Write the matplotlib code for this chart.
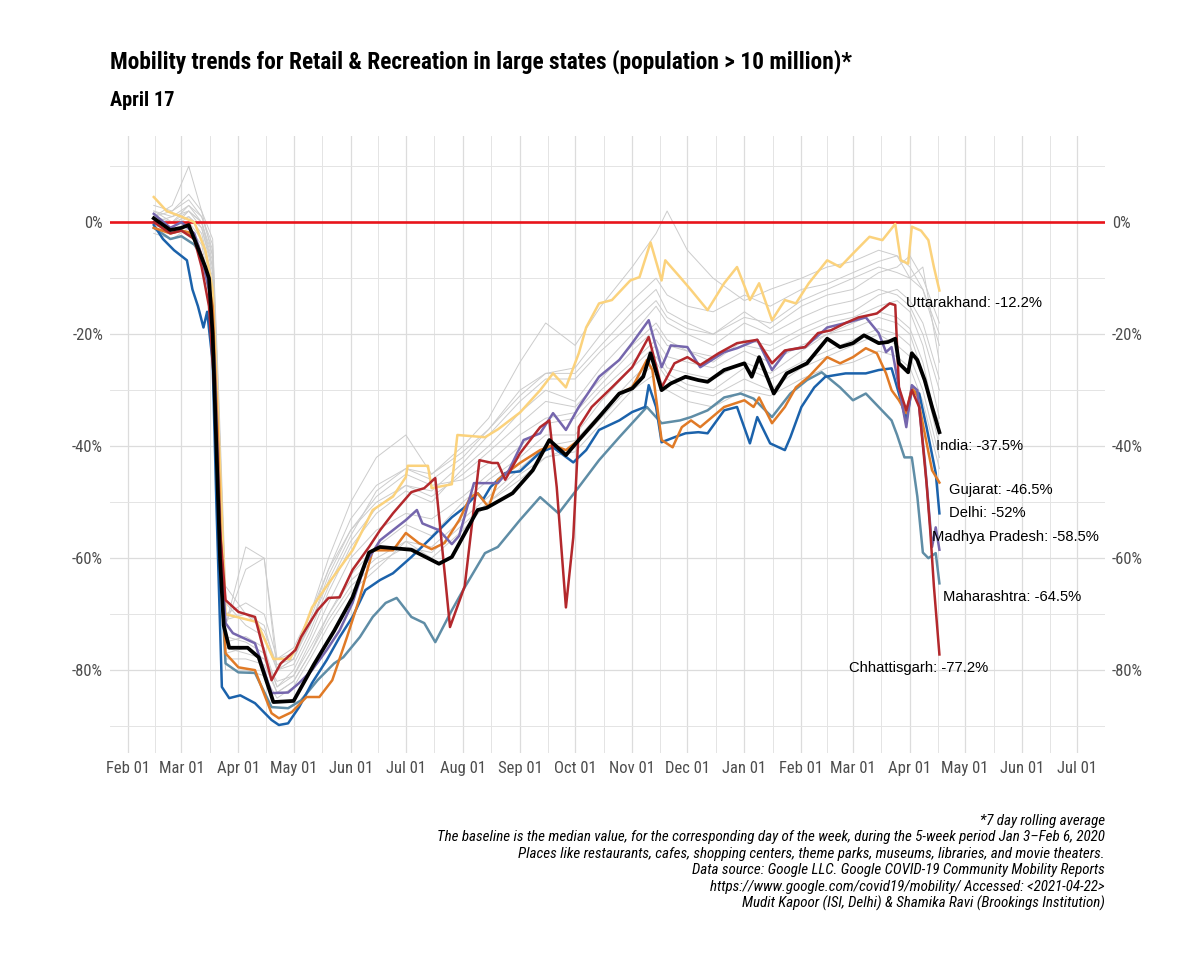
import matplotlib
matplotlib.use("Agg")
import matplotlib.pyplot as plt
import matplotlib.dates as mdates
import matplotlib.font_manager as fm
import pandas as pd
import numpy as np

# ---------------- data ----------------
INDIA_DATES = ["2020-02-15","2020-02-24","2020-03-01","2020-03-05","2020-03-09","2020-03-14","2020-03-16","2020-03-18","2020-03-20","2020-03-22","2020-03-24","2020-03-27","2020-04-06","2020-04-12","2020-04-20","2020-05-01","2020-05-12","2020-05-23","2020-06-02","2020-06-11","2020-06-17","2020-07-04","2020-07-19","2020-07-26","2020-08-09","2020-08-14","2020-08-28","2020-09-08","2020-09-17","2020-09-26","2020-10-03","2020-10-14","2020-10-25","2020-11-01","2020-11-07","2020-11-11","2020-11-17","2020-11-22","2020-11-30","2020-12-07","2020-12-12","2020-12-21","2021-01-01","2021-01-05","2021-01-09","2021-01-17","2021-01-24","2021-02-04","2021-02-15","2021-02-22","2021-03-01","2021-03-07","2021-03-15","2021-03-20","2021-03-24","2021-03-26","2021-03-31","2021-04-02","2021-04-05","2021-04-09","2021-04-13","2021-04-17"]
INDIA_VALUES = [0.7,-1.4,-1.0,-0.5,-3.8,-8.0,-10.0,-20.0,-40.0,-60.0,-72.0,-76.0,-76.0,-77.7,-85.7,-85.5,-79.0,-73.0,-67.0,-59.0,-58.0,-58.5,-61.0,-59.8,-51.4,-51.0,-48.4,-44.3,-38.9,-41.6,-38.9,-34.8,-30.6,-29.7,-27.6,-23.4,-30.0,-28.8,-27.6,-28.2,-28.5,-26.4,-25.2,-27.6,-24.1,-30.6,-27.0,-25.2,-20.8,-22.3,-21.6,-20.2,-21.6,-21.4,-20.8,-25.2,-26.8,-23.4,-24.6,-28.2,-33.0,-37.5]

UTTARAKHAND_DATES = ["2020-02-15","2020-02-22","2020-03-01","2020-03-08","2020-03-14","2020-03-18","2020-03-21","2020-03-25","2020-04-11","2020-04-20","2020-04-29","2020-05-04","2020-05-11","2020-05-20","2020-06-02","2020-06-13","2020-06-24","2020-07-01","2020-07-02","2020-07-13","2020-07-15","2020-07-26","2020-07-29","2020-08-13","2020-08-20","2020-09-01","2020-09-12","2020-09-19","2020-09-26","2020-10-03","2020-10-07","2020-10-14","2020-10-21","2020-10-31","2020-11-05","2020-11-11","2020-11-17","2020-11-19","2020-11-27","2020-12-03","2020-12-12","2020-12-21","2020-12-28","2021-01-04","2021-01-09","2021-01-16","2021-01-23","2021-01-29","2021-02-05","2021-02-15","2021-02-22","2021-03-01","2021-03-10","2021-03-17","2021-03-24","2021-03-27","2021-03-31","2021-04-02","2021-04-07","2021-04-11","2021-04-14","2021-04-17"]
UTTARAKHAND_VALUES = [4.5,2.0,1.0,0.0,-5.0,-12.0,-35.0,-70.0,-71.4,-78.0,-78.0,-75.0,-68.8,-64.5,-58.6,-51.4,-49.0,-45.5,-43.5,-43.5,-47.5,-46.8,-38.0,-38.4,-37.0,-34.0,-30.0,-27.0,-29.5,-23.4,-18.8,-14.5,-13.9,-10.4,-9.8,-3.6,-10.4,-6.8,-9.8,-12.1,-15.7,-10.9,-8.0,-13.9,-10.9,-17.5,-13.9,-14.5,-10.9,-6.8,-8.0,-5.6,-2.6,-3.2,-0.3,-6.8,-7.4,-0.8,-1.5,-3.2,-8.0,-12.2]

CHHATTISGARH_DATES = ["2020-02-15","2020-02-24","2020-03-01","2020-03-08","2020-03-12","2020-03-16","2020-03-19","2020-03-22","2020-03-25","2020-04-01","2020-04-10","2020-04-19","2020-04-24","2020-05-02","2020-05-05","2020-05-14","2020-05-20","2020-05-26","2020-06-02","2020-06-11","2020-06-17","2020-06-24","2020-07-04","2020-07-11","2020-07-14","2020-07-17","2020-07-25","2020-08-02","2020-08-10","2020-08-17","2020-08-20","2020-08-24","2020-09-01","2020-09-12","2020-09-17","2020-09-21","2020-09-26","2020-09-30","2020-10-03","2020-10-10","2020-10-21","2020-11-01","2020-11-10","2020-11-17","2020-11-24","2020-12-01","2020-12-08","2020-12-18","2020-12-28","2021-01-08","2021-01-16","2021-01-23","2021-02-03","2021-02-10","2021-02-17","2021-02-25","2021-03-04","2021-03-14","2021-03-21","2021-03-24","2021-03-26","2021-03-30","2021-04-02","2021-04-06","2021-04-10","2021-04-12","2021-04-14","2021-04-17"]
CHHATTISGARH_VALUES = [0.0,-2.0,-1.5,-3.0,-8.0,-15.0,-30.0,-55.0,-67.5,-69.6,-70.5,-81.8,-78.8,-76.4,-74.1,-69.3,-67.1,-67.0,-62.1,-58.0,-55.0,-52.0,-48.2,-47.5,-46.6,-45.7,-72.3,-65.0,-42.5,-43.0,-43.0,-46.0,-41.3,-36.6,-35.4,-47.3,-68.8,-56.3,-36.6,-33.0,-29.5,-25.9,-20.5,-29.5,-25.2,-24.1,-25.5,-23.4,-21.6,-21.0,-25.2,-22.9,-22.3,-19.8,-19.3,-18.0,-17.0,-16.3,-14.5,-14.8,-29.5,-33.6,-30.0,-33.0,-46.6,-55.0,-65.0,-77.2]

MP_DATES = ["2020-02-15","2020-02-24","2020-03-01","2020-03-08","2020-03-12","2020-03-16","2020-03-19","2020-03-22","2020-03-25","2020-03-29","2020-04-10","2020-04-19","2020-04-28","2020-05-04","2020-05-11","2020-05-19","2020-05-26","2020-06-02","2020-06-09","2020-06-17","2020-06-24","2020-07-01","2020-07-07","2020-07-10","2020-07-19","2020-07-26","2020-07-30","2020-08-07","2020-08-20","2020-08-26","2020-09-03","2020-09-12","2020-09-19","2020-09-26","2020-10-03","2020-10-14","2020-10-25","2020-11-01","2020-11-10","2020-11-17","2020-11-22","2020-12-01","2020-12-08","2020-12-21","2020-12-28","2021-01-08","2021-01-16","2021-01-24","2021-02-03","2021-02-15","2021-02-25","2021-03-08","2021-03-15","2021-03-19","2021-03-22","2021-03-26","2021-03-30","2021-04-02","2021-04-05","2021-04-09","2021-04-13","2021-04-15","2021-04-17"]
MP_VALUES = [1.5,-1.0,0.0,-2.0,-6.0,-12.0,-25.0,-55.0,-71.6,-73.4,-75.2,-84.1,-84.0,-82.3,-80.0,-76.4,-72.9,-68.0,-61.0,-56.8,-55.0,-53.2,-51.4,-53.8,-55.0,-57.5,-56.0,-46.6,-46.6,-44.3,-38.9,-37.7,-34.1,-37.1,-33.0,-27.6,-24.6,-21.6,-17.5,-25.9,-22.0,-22.3,-25.9,-23.2,-22.5,-21.0,-26.4,-22.9,-22.3,-18.8,-18.0,-17.0,-19.8,-23.2,-22.3,-29.5,-36.6,-29.1,-30.0,-42.5,-58.0,-54.5,-58.5]

GUJARAT_DATES = ["2020-02-15","2020-02-24","2020-03-01","2020-03-05","2020-03-10","2020-03-14","2020-03-18","2020-03-21","2020-03-23","2020-03-25","2020-04-01","2020-04-10","2020-04-19","2020-04-23","2020-04-30","2020-05-08","2020-05-15","2020-05-22","2020-05-30","2020-06-06","2020-06-13","2020-06-24","2020-07-01","2020-07-08","2020-07-15","2020-07-22","2020-07-30","2020-08-05","2020-08-09","2020-08-15","2020-08-20","2020-09-01","2020-09-12","2020-09-19","2020-09-26","2020-10-03","2020-10-14","2020-10-25","2020-11-01","2020-11-09","2020-11-12","2020-11-17","2020-11-23","2020-11-28","2020-12-03","2020-12-08","2020-12-21","2021-01-01","2021-01-06","2021-01-09","2021-01-16","2021-01-23","2021-01-29","2021-02-05","2021-02-15","2021-02-22","2021-03-01","2021-03-08","2021-03-14","2021-03-19","2021-03-22","2021-03-26","2021-03-30","2021-04-02","2021-04-05","2021-04-09","2021-04-13","2021-04-17"]
GUJARAT_VALUES = [-1.0,-2.0,-1.5,-1.8,-4.0,-8.0,-15.0,-40.0,-65.0,-77.0,-79.5,-80.0,-87.7,-88.6,-87.5,-84.8,-84.8,-81.8,-74.1,-67.0,-58.6,-58.6,-55.5,-57.3,-58.4,-57.3,-53.2,-49.1,-48.4,-50.9,-46.0,-43.0,-40.7,-39.8,-40.7,-38.9,-34.8,-30.6,-29.5,-24.6,-26.4,-38.9,-40.2,-36.6,-35.4,-36.6,-33.0,-31.8,-33.0,-31.3,-35.9,-33.0,-29.5,-27.6,-24.1,-25.2,-24.1,-22.5,-23.4,-27.0,-30.0,-31.8,-34.1,-29.5,-31.0,-37.7,-44.3,-46.5]

DELHI_DATES = ["2020-02-15","2020-02-20","2020-02-26","2020-03-04","2020-03-07","2020-03-10","2020-03-13","2020-03-15","2020-03-18","2020-03-20","2020-03-23","2020-03-27","2020-04-02","2020-04-10","2020-04-19","2020-04-23","2020-04-28","2020-05-04","2020-05-11","2020-05-19","2020-05-26","2020-06-02","2020-06-09","2020-06-17","2020-06-24","2020-07-04","2020-07-15","2020-07-26","2020-08-02","2020-08-09","2020-08-12","2020-08-16","2020-08-24","2020-09-01","2020-09-12","2020-09-19","2020-09-30","2020-10-07","2020-10-14","2020-10-25","2020-11-01","2020-11-08","2020-11-10","2020-11-14","2020-11-17","2020-11-24","2020-11-30","2020-12-07","2020-12-12","2020-12-21","2020-12-28","2021-01-04","2021-01-08","2021-01-15","2021-01-23","2021-01-26","2021-02-01","2021-02-08","2021-02-14","2021-02-25","2021-03-08","2021-03-15","2021-03-22","2021-03-26","2021-03-30","2021-04-02","2021-04-06","2021-04-10","2021-04-15","2021-04-17"]
DELHI_VALUES = [-0.5,-3.0,-5.0,-6.8,-12.0,-15.0,-18.8,-16.0,-25.0,-50.0,-83.0,-85.0,-84.5,-85.9,-88.9,-89.8,-89.5,-86.6,-82.3,-78.2,-74.1,-70.5,-65.7,-63.9,-62.7,-59.8,-56.3,-52.7,-50.9,-48.4,-49.5,-47.3,-44.8,-44.5,-41.1,-40.2,-42.9,-40.7,-37.1,-35.4,-33.9,-33.0,-29.1,-33.0,-39.3,-38.4,-37.7,-37.5,-37.7,-33.6,-33.0,-39.5,-34.8,-39.5,-40.7,-38.4,-33.0,-29.5,-27.6,-27.0,-27.0,-26.4,-26.1,-30.6,-35.4,-30.0,-30.6,-36.6,-44.8,-52.0]

MAHARASHTRA_DATES = ["2020-02-15","2020-02-24","2020-03-01","2020-03-08","2020-03-12","2020-03-16","2020-03-19","2020-03-22","2020-03-25","2020-04-01","2020-04-10","2020-04-19","2020-04-28","2020-05-05","2020-05-14","2020-05-23","2020-05-28","2020-06-06","2020-06-13","2020-06-20","2020-06-26","2020-07-04","2020-07-11","2020-07-17","2020-07-26","2020-08-02","2020-08-13","2020-08-20","2020-09-01","2020-09-12","2020-09-22","2020-10-03","2020-10-14","2020-10-25","2020-11-09","2020-11-17","2020-11-27","2020-12-03","2020-12-12","2020-12-21","2020-12-30","2021-01-06","2021-01-16","2021-01-26","2021-02-04","2021-02-12","2021-02-22","2021-03-01","2021-03-08","2021-03-15","2021-03-22","2021-03-25","2021-03-29","2021-04-02","2021-04-05","2021-04-08","2021-04-11","2021-04-15","2021-04-17"]
MAHARASHTRA_VALUES = [-1.0,-3.0,-2.5,-4.0,-6.0,-12.0,-28.0,-60.0,-78.8,-80.4,-80.5,-86.6,-86.8,-85.4,-81.8,-78.8,-77.7,-74.1,-70.5,-68.0,-67.1,-70.5,-71.6,-75.0,-69.3,-65.2,-59.1,-58.0,-53.2,-49.1,-52.0,-47.3,-42.5,-38.4,-33.0,-35.9,-35.4,-34.8,-33.6,-31.3,-30.6,-31.5,-34.8,-30.6,-28.2,-26.8,-29.5,-31.8,-30.6,-33.0,-35.4,-38.0,-42.0,-42.0,-49.0,-59.0,-60.0,-59.1,-64.5]

# the other large states, drawn in light grey
GREY_DATES = ["2020-02-15","2020-02-25","2020-03-05","2020-03-12","2020-03-18","2020-03-21","2020-03-25","2020-04-05","2020-04-15","2020-04-22","2020-05-01","2020-05-10","2020-05-20","2020-06-01","2020-06-15","2020-07-01","2020-07-15","2020-08-01","2020-08-15","2020-09-01","2020-09-15","2020-10-01","2020-10-15","2020-11-01","2020-11-14","2020-11-20","2020-12-01","2020-12-15","2021-01-01","2021-01-15","2021-02-01","2021-02-15","2021-03-01","2021-03-15","2021-03-25","2021-04-01","2021-04-08","2021-04-17"]
GREY_01 = [1,3,10,2,-6,-30,-72,-62,-60,-80,-78,-70,-60,-50,-42,-38,-45,-40,-35,-25,-18,-22,-15,-8,-2,2,-5,-10,-14,-12,-10,-8,-7,-5,-6,-10,-8,-25]
GREY_02 = [2,0,3,0,-8,-40,-75,-74,-76,-83,-80,-74,-66,-58,-52,-48,-50,-44,-40,-34,-30,-32,-26,-20,-15,-18,-20,-22,-18,-20,-17,-15,-14,-12,-13,-15,-20,-30]
GREY_03 = [0,-1,1,-2,-10,-45,-78,-78,-79,-84,-82,-77,-70,-63,-58,-54,-56,-50,-46,-42,-38,-38,-32,-26,-22,-26,-27,-28,-25,-27,-23,-20,-18,-16,-17,-19,-25,-38]
GREY_04 = [1,2,4,1,-5,-35,-70,-68,-70,-78,-76,-70,-62,-55,-50,-47,-48,-43,-38,-32,-28,-28,-23,-18,-14,-17,-19,-20,-17,-18,-14,-12,-10,-8,-9,-10,-12,-20]
GREY_05 = [-1,-2,0,-3,-12,-50,-80,-80,-81,-85,-83,-78,-72,-66,-62,-57,-60,-55,-50,-45,-42,-40,-35,-29,-25,-28,-30,-31,-28,-30,-26,-24,-22,-20,-22,-24,-30,-42]
GREY_06 = [0,1,2,0,-7,-38,-72,-58,-60,-78,-77,-72,-64,-56,-48,-44,-46,-42,-37,-30,-27,-27,-22,-16,-12,-16,-18,-20,-16,-19,-15,-13,-12,-9,-8,-6,-10,-18]
GREY_07 = [2,1,3,1,-4,-30,-68,-72,-74,-80,-79,-73,-65,-57,-51,-47,-49,-45,-41,-36,-32,-33,-28,-22,-18,-21,-23,-24,-22,-23,-20,-18,-17,-15,-14,-16,-22,-35]
GREY_08 = [-2,-3,-1,-4,-14,-48,-76,-77,-78,-82,-81,-75,-68,-60,-55,-52,-53,-49,-45,-40,-36,-35,-30,-25,-21,-24,-25,-26,-23,-25,-22,-20,-19,-17,-18,-20,-27,-40]
GREY_09 = [3,2,5,2,-3,-28,-65,-70,-72,-80,-78,-71,-62,-53,-47,-44,-45,-41,-37,-31,-27,-26,-20,-14,-10,-13,-15,-16,-13,-15,-12,-11,-9,-7,-6,-8,-12,-22]
GREY_10 = [0,-1,2,-1,-9,-42,-74,-75,-77,-83,-81,-76,-70,-64,-60,-57,-58,-53,-49,-44,-40,-39,-34,-28,-24,-27,-29,-30,-26,-28,-25,-23,-21,-19,-20,-22,-28,-36]
GREY_11 = [1,0,2,0,-6,-36,-71,-70,-73,-79,-78,-72,-63,-55,-49,-45,-47,-46,-43,-38,-35,-34,-29,-23,-19,-22,-23,-25,-21,-22,-19,-17,-16,-13,-12,-14,-18,-28]
GREY_12 = [-1,0,1,-1,-8,-44,-77,-76,-78,-84,-82,-77,-71,-65,-61,-58,-59,-54,-50,-46,-42,-41,-36,-30,-27,-30,-32,-33,-30,-31,-28,-26,-25,-23,-24,-26,-32,-44]

LABELS = ["Uttarakhand: -12.2%", "India: -37.5%", "Gujarat: -46.5%", "Delhi: -52%",
          "Madhya Pradesh: -58.5%", "Maharashtra: -64.5%", "Chhattisgarh: -77.2%"]
Y_TICKS = [0, -20, -40, -60, -80]
Y_TICK_LABELS = ["0%", "-20%", "-40%", "-60%", "-80%"]

TITLE = "Mobility trends for Retail & Recreation in large states (population > 10 million)*"
SUBTITLE = "April 17"
CAPTION = ["*7 day rolling average",
           "The baseline is the median value, for the corresponding day of the week, during the 5-week period Jan 3\u2013Feb 6, 2020",
           "Places like restaurants, cafes, shopping centers, theme parks, museums, libraries, and movie theaters.",
           "Data source: Google LLC. Google COVID-19 Community Mobility Reports",
           "https://www.google.com/covid19/mobility/ Accessed: <2021-04-22>",
           "Mudit Kapoor (ISI, Delhi) & Shamika Ravi (Brookings Institution)"]

# ---------------- fonts: prefer a narrow sans face if one is installed ----------------
_names = {f.name for f in fm.fontManager.ttflist}
_prefs = ["Liberation Sans Narrow", "Arial Narrow", "Roboto Condensed", "Noto Sans Condensed",
          "Open Sans Condensed", "DejaVu Sans Condensed"]
_narrow = [n for n in _prefs if n in _names]
NARROW = _narrow[:1] + ["Liberation Sans", "DejaVu Sans"]
REGULAR = ["Liberation Sans", "DejaVu Sans"]

fig = plt.figure(figsize=(12, 9.64), dpi=100)
renderer = fig.canvas.get_renderer()


def fit_size(text_obj, target_px):
    w = text_obj.get_window_extent(renderer).width
    text_obj.set_fontsize(text_obj.get_fontsize() * target_px / w)
    return text_obj.get_fontsize()


ax = fig.add_axes([110/1200, 1-753/964, (1105-110)/1200, (753-136)/964])

gd = pd.to_datetime(GREY_DATES)
for g in [GREY_01, GREY_02, GREY_03, GREY_04, GREY_05, GREY_06,
          GREY_07, GREY_08, GREY_09, GREY_10, GREY_11, GREY_12]:
    ax.plot(gd, g, color="#cccccc", lw=0.7, zorder=2)

ax.axhline(0, color="#e8141b", lw=1.9, zorder=3)

series = [
    (UTTARAKHAND_DATES, UTTARAKHAND_VALUES, "#fbd27c", 1.8),
    (MAHARASHTRA_DATES, MAHARASHTRA_VALUES, "#5f8da6", 1.8),
    (DELHI_DATES, DELHI_VALUES, "#1b62ab", 1.8),
    (GUJARAT_DATES, GUJARAT_VALUES, "#e07a26", 1.8),
    (MP_DATES, MP_VALUES, "#7566ad", 1.8),
    (CHHATTISGARH_DATES, CHHATTISGARH_VALUES, "#b3282c", 1.8),
    (INDIA_DATES, INDIA_VALUES, "#000000", 2.7),
]
for d, v, c, lw in series:
    ax.plot(pd.to_datetime(d), v, color=c, lw=lw, zorder=4, solid_joinstyle="round")

# labels next to line ends
label_pos = [("2021-03-30", -14.5), ("2021-04-15", -40.0), ("2021-04-22", -47.9),
             ("2021-04-22", -52.0), ("2021-04-13", -56.3), ("2021-04-19", -67.0),
             ("2021-02-27", -79.6)]
label_objs = []
for txt, (d, y) in zip(LABELS, label_pos):
    label_objs.append(ax.text(pd.Timestamp(d), y, txt, ha="left", va="center", fontsize=10,
                              family=REGULAR, color="black", zorder=6))
lsize = fit_size(label_objs[4], 166)
for t in label_objs:
    t.set_fontsize(lsize)

# axes limits / ticks
x0 = pd.Timestamp("2020-02-01")
ax.set_xlim(mdates.date2num(x0) - 9.8, mdates.date2num(x0) + 531)
ax.set_ylim(-94.8, 15.4)

majors = pd.date_range("2020-02-01", "2021-07-01", freq="MS")
mnum = mdates.date2num(majors)
minors = (mnum[:-1] + mnum[1:]) / 2
ax.set_xticks(mnum)
ax.set_xticklabels([m.strftime("%b %d") for m in majors])
ax.set_xticks(minors, minor=True)
ax.set_yticks(Y_TICKS)
ax.set_yticklabels(Y_TICK_LABELS)
ax.set_yticks([10, -10, -30, -50, -70, -90], minor=True)

ax.grid(which="major", color="#dcdcdc", lw=0.9)
ax.grid(which="minor", color="#e4e4e4", lw=0.7)
ax.set_axisbelow(True)
for s in ax.spines.values():
    s.set_visible(False)

# tick label size fitted so "Feb 01" is ~44 px wide
probe = fig.text(0, 0, "Feb 01", fontsize=11, family=NARROW)
tsize = fit_size(probe, 44)
probe.remove()

ax.tick_params(which="both", length=0)
ax.tick_params(axis="y", pad=5, labelright=True, labelsize=tsize, labelcolor="#4d4d4d")
ax.tick_params(axis="x", pad=6, labelsize=tsize, labelcolor="#4d4d4d")
for lab in ax.get_xticklabels() + ax.yaxis.get_ticklabels() + \
        [t.label2 for t in ax.yaxis.get_major_ticks()]:
    lab.set_family(NARROW)

# titles and caption
title = fig.text(110/1200, 1-62/964, TITLE, ha="left", va="center", fontsize=15,
                 fontweight="bold", family=NARROW)
fit_size(title, 743)
sub = fig.text(110/1200, 1-100/964, SUBTITLE, ha="left", va="center", fontsize=12.5,
               fontweight="bold", family=NARROW)
fit_size(sub, 65)
cap_objs = []
for i, line in enumerate(CAPTION):
    cap_objs.append(fig.text(1105/1200, 1-(821+16.4*i)/964, line, ha="right", va="center",
                             fontsize=10, style="italic", family=NARROW))
csize = fit_size(cap_objs[1], 668)
for t in cap_objs:
    t.set_fontsize(csize)

fig.savefig("out.png", dpi=100, facecolor="white")
